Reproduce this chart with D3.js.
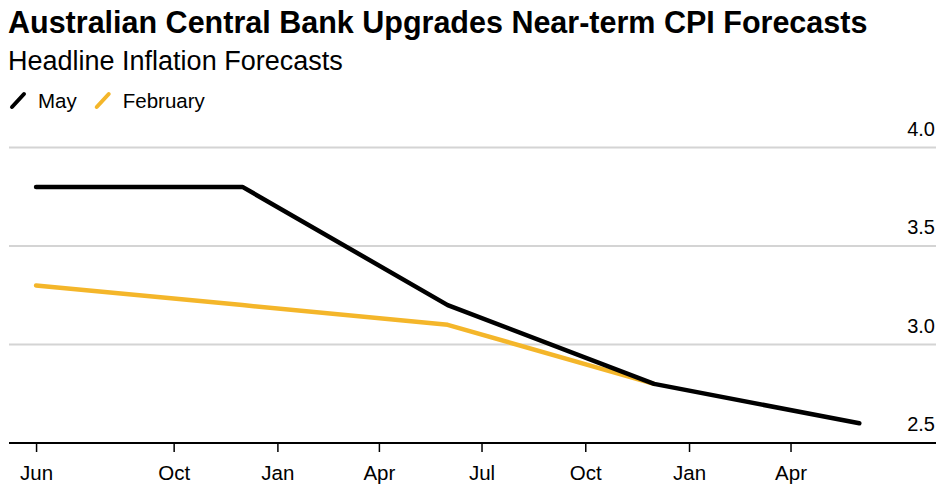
<!DOCTYPE html>
<html lang="en">
<head>
<meta charset="UTF-8">
<title>Australian Central Bank Upgrades Near-term CPI Forecasts</title>
<style>
  body { margin: 0; background: #fff; }
  svg { display: block; font-family: "Liberation Sans", Arial, sans-serif; }
  .title { font-size: 30.5px; font-weight: bold; fill: #000; }
  .subtitle { font-size: 27px; fill: #000; }
  .legend text { font-size: 20.5px; fill: #000; }
  .grid line { stroke: #d4d4d4; stroke-width: 2px; }
  .ylab { font-size: 20px; fill: #000; text-anchor: end; }
  .xaxis text { font-size: 20.5px; fill: #000; }
  .line { fill: none; stroke-width: 4.5px; stroke-linejoin: round; stroke-linecap: round; }
</style>
</head>
<body>
<script src="https://d3js.org/d3.v7.min.js"></script>
<script>

// forecast dates (half-year points)
var mayDates = ["2024-06-01", "2024-12-01", "2025-06-01", "2025-12-01", "2026-06-01"];
var mayValues = [3.8, 3.8, 3.2, 2.8, 2.6];
var febDates = ["2024-06-01", "2024-12-01", "2025-06-01", "2025-12-01"];
var febValues = [3.3, 3.2, 3.1, 2.8];
var yTicks = [2.5, 3.0, 3.5, 4.0];
var xTicks = ["2024-06-01", "2024-10-01", "2025-01-01", "2025-04-01",
              "2025-07-01", "2025-10-01", "2026-01-01", "2026-04-01"];
var xTickLabels = ["Jun", "Oct", "Jan", "Apr", "Jul", "Oct", "Jan", "Apr"];
var seriesNames = ["May", "February"];
var colors = ["#000000", "#f4b62a"];

var width = 950, height = 490;
var parse = d3.timeParse("%Y-%m-%d");

var svg = d3.select("body").append("svg")
  .attr("width", width)
  .attr("height", height);

var x = d3.scaleTime()
  .domain([parse("2024-05-08"), parse("2026-08-08")])
  .range([9, 936]);

var y = d3.scaleLinear()
  .domain([2.5, 4.0])
  .range([443, 147.5]);

// titles
svg.append("text").attr("class", "title")
  .attr("x", 8).attr("y", 33)
  .text("Australian Central Bank Upgrades Near-term CPI Forecasts");

svg.append("text").attr("class", "subtitle")
  .attr("x", 8).attr("y", 70)
  .text("Headline Inflation Forecasts");

// legend
var legend = svg.append("g").attr("class", "legend");
var lx = 10;
seriesNames.forEach(function (name, i) {
  var g = legend.append("g").attr("transform", "translate(" + lx + ",0)");
  g.append("line")
    .attr("x1", 2).attr("y1", 107).attr("x2", 14).attr("y2", 94)
    .attr("stroke", colors[i]).attr("stroke-width", 4).attr("stroke-linecap", "round");
  var t = g.append("text").attr("x", 28).attr("y", 108).text(name);
  lx += 28 + t.node().getComputedTextLength() + 18;
});

// grid lines
svg.append("g").attr("class", "grid")
  .selectAll("line")
  .data(yTicks.filter(function (d) { return d > 2.5; }))
  .enter().append("line")
  .attr("x1", 9).attr("x2", 936)
  .attr("y1", function (d) { return y(d); })
  .attr("y2", function (d) { return y(d); });

// y labels, right side above gridlines
svg.append("g")
  .selectAll("text")
  .data(yTicks)
  .enter().append("text")
  .attr("class", "ylab")
  .attr("x", 935)
  .attr("y", function (d) { return y(d) - 12; })
  .text(function (d) { return d3.format(".1f")(d); });

// x axis
var xAxis = d3.axisBottom(x)
  .tickValues(xTicks.map(parse))
  .tickSize(9)
  .tickPadding(13)
  .tickFormat(function (d, i) { return xTickLabels[i]; });

var xg = svg.append("g").attr("class", "xaxis")
  .attr("transform", "translate(0," + y(2.5) + ")")
  .call(xAxis);
xg.select(".domain").remove();
xg.selectAll(".tick line").attr("stroke", "#000").attr("stroke-width", 1.5);
xg.selectAll("text").attr("font-family", null).attr("font-size", null);
xg.insert("line", ":first-child")
  .attr("x1", 9).attr("x2", 936)
  .attr("stroke", "#000").attr("stroke-width", 2);

// lines
var line = d3.line()
  .x(function (d) { return x(d.date); })
  .y(function (d) { return y(d.value); });

var febData = febDates.map(function (d, i) { return { date: parse(d), value: febValues[i] }; });
var mayData = mayDates.map(function (d, i) { return { date: parse(d), value: mayValues[i] }; });

svg.append("path").attr("class", "line")
  .datum(febData)
  .attr("stroke", colors[1])
  .attr("d", line);

svg.append("path").attr("class", "line")
  .datum(mayData)
  .attr("stroke", colors[0])
  .attr("d", line);

</script>
</body>
</html>
